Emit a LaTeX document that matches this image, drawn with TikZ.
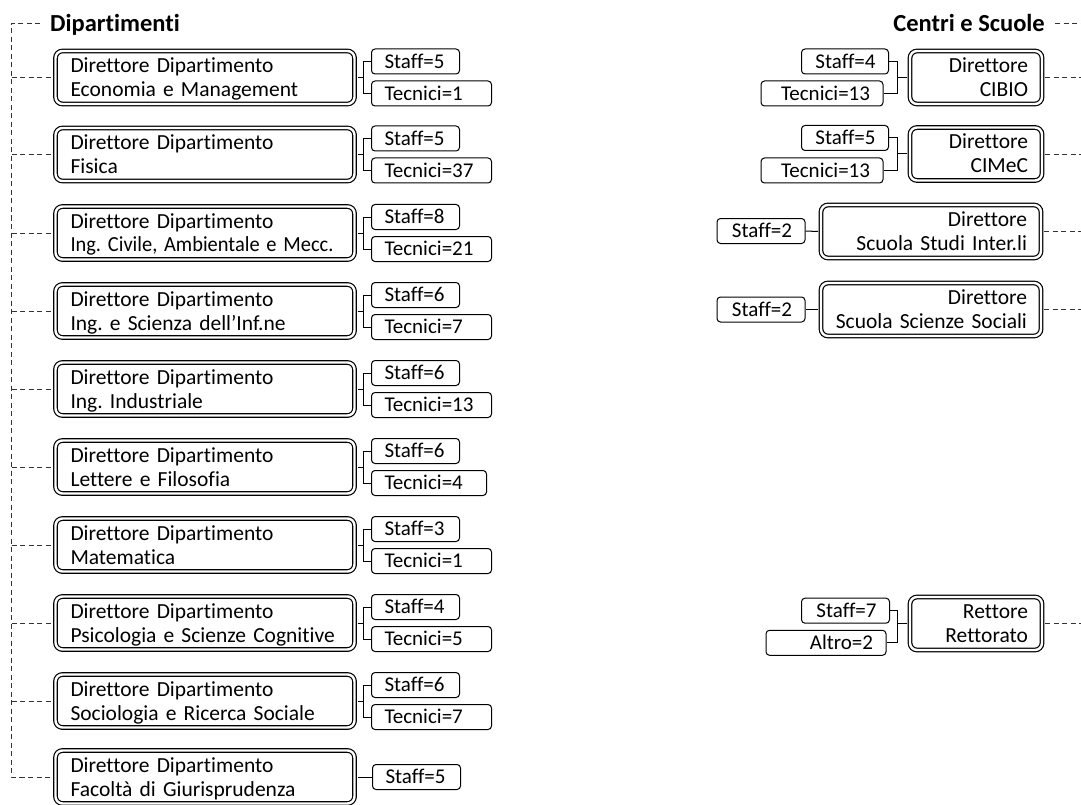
\documentclass[tikz,border=0pt]{standalone}
\usepackage{fontspec}
\setmainfont{Carlito}[Ligatures=CommonOff]
\frenchspacing

\begin{document}
\begin{tikzpicture}[x=1pt,y=-1pt,
  dir/.style={draw, double, double distance=2.4pt, line width=1.2pt, rounded corners=7pt,
    minimum height=53pt, inner xsep=15pt, inner ysep=0pt, outer sep=3pt,
    text height=14pt, text depth=24pt, font=\fontsize{21.5}{24}\selectfont},
  dirL/.style={dir, text width=269pt, align=left},
  dirR/.style={dir, inner xsep=14pt, text width=#1, align=right},
  sbox/.style={draw, line width=1pt, rounded corners=3.5pt, minimum height=25pt,
    inner xsep=13pt, inner ysep=0pt, text height=13.5pt, text depth=0pt,
    font=\fontsize{21}{24}\selectfont},
  sL/.style={sbox, text width=#1, align=left},
  sR/.style={sbox, text width=#1, align=right},
  head/.style={inner xsep=10pt, inner ysep=0pt, text height=18pt, text depth=0pt,
    font=\fontsize{24.5}{28}\selectfont\bfseries},
  dline/.style={dash pattern=on 5pt off 3.5pt, line width=0.9pt, black!80},
  link/.style={line width=1pt}]
\useasboundingbox (0,0) rectangle (1081,805);
%\draw[step=50pt,gray,very thin] (0,0) grid (1081,805); %background grid

% headings
\node[head, anchor=base west] (dip) at (40,32) {Dipartimenti};
\node[head, anchor=base east] (cs) at (1055,32) {Centri e Scuole};
\coordinate (spine) at (11.5,23);
\coordinate (redge) at (1081,23);

% Dipartimenti
\node[dirL] (d1) at (205,77.5) {Direttore Dipartimento\\Economia e Management};
\node[dirL] (d2) at (205,154.5) {Direttore Dipartimento\\Fisica};
\node[dirL] (d3) at (205,233) {Direttore Dipartimento\\\scalebox{0.95}[1]{Ing. Civile, Ambientale e Mecc.}};
\node[dirL] (d4) at (205,311) {Direttore Dipartimento\\Ing. e Scienza dell’Inf.ne};
\node[dirL] (d5) at (205,389) {Direttore Dipartimento\\Ing. Industriale};
\node[dirL] (d6) at (205,467) {Direttore Dipartimento\\Lettere e Filosofia};
\node[dirL] (d7) at (205,545) {Direttore Dipartimento\\Matematica};
\node[dirL] (d8) at (205,623) {Direttore Dipartimento\\Psicologia e Scienze Cognitive};
\node[dirL] (d9) at (205,701) {Direttore Dipartimento\\Sociologia e Ricerca Sociale};
\node[dirL] (d10) at (205,777) {Direttore Dipartimento\\Facoltà di Giurisprudenza};

\node[sL=62pt] (s1) at (415.5,61.5) {Staff=5};
\node[sL=94pt] (t1) at (431.5,93.5) {Tecnici=1};
\node[sL=62pt] (s2) at (415.5,138.5) {Staff=5};
\node[sL=94pt] (t2) at (431.5,170.5) {Tecnici=37};
\node[sL=62pt] (s3) at (415.5,217) {Staff=8};
\node[sL=94pt] (t3) at (431.5,249) {Tecnici=21};
\node[sL=62pt] (s4) at (415.5,295) {Staff=6};
\node[sL=94pt] (t4) at (431.5,327) {Tecnici=7};
\node[sL=62pt] (s5) at (415.5,373) {Staff=6};
\node[sL=94pt] (t5) at (431.5,405) {Tecnici=13};
\node[sL=62pt] (s6) at (415.5,451) {Staff=6};
\node[sL=89pt] (t6) at (429,483) {Tecnici=4};
\node[sL=62pt] (s7) at (415.5,529) {Staff=3};
\node[sL=94pt] (t7) at (431.5,561) {Tecnici=1};
\node[sL=62pt] (s8) at (415.5,607) {Staff=4};
\node[sL=94pt] (t8) at (431.5,639) {Tecnici=5};
\node[sL=62pt] (s9) at (415.5,685) {Staff=6};
\node[sL=94pt] (t9) at (431.5,717) {Tecnici=7};
\node[sL=62pt] (s10) at (416.5,777) {Staff=5};

% Centri e Scuole
\node[dirR=104pt] (c1) at (976,77.5) {Direttore\\CIBIO};
\node[dirR=104pt] (c2) at (976,154) {Direttore\\CIMeC};
\node[dirR=192pt] (c3) at (931,231.5) {Direttore\\Scuola Studi Inter.li};
\node[dirR=192pt] (c4) at (931,309.5) {Direttore\\Scuola Scienze Sociali};
\node[dirR=104pt] (r) at (976,623.5) {Rettore\\Rettorato};

\node[sR=61pt] (cs1) at (845,61.5) {Staff=4};
\node[sR=96pt] (ct1) at (822,93.5) {Tecnici=13};
\node[sR=61pt] (cs2) at (845,138) {Staff=5};
\node[sR=96pt] (ct2) at (822,170.5) {Tecnici=13};
\node[sR=62pt] (cs3) at (761,231) {Staff=2};
\node[sR=62pt] (cs4) at (761,309.5) {Staff=2};
\node[sR=62pt] (rs) at (845.5,610.7) {Staff=7};
\node[sR=94pt] (ra) at (826,642.8) {Altro=2};

% dashed tree
\draw[dline] (dip.west) -- (spine) |- (d10.west);
\foreach \i in {1,...,9} {
  \draw[dline] (spine |- d\i.west) -- (d\i.west);
}
\draw[dline] (cs.east) -- (redge);
\foreach \n in {c1,c2,c3,c4,r} {
  \draw[dline] (\n.east) -- (redge |- \n.east);
}

% links to staff
\foreach \i in {1,...,9} {
  \draw[link] (d\i.east) -- ++(5.5,0) coordinate (j\i) |- (s\i.west) (j\i) |- (t\i.west);
}
\draw[link] (d10.east) -- (s10.west);
\draw[link] (c1.west) -- ++(-10,0) coordinate (k1) |- (cs1.east) (k1) |- (ct1.east);
\draw[link] (c2.west) -- ++(-10,0) coordinate (k2) |- (cs2.east) (k2) |- (ct2.east);
\draw[link] (c3.west) -- (cs3.east);
\draw[link] (c4.west) -- (cs4.east);
\draw[link] (r.west) -- ++(-10,0) coordinate (kr) |- (rs.east) (kr) |- (ra.east);
\end{tikzpicture}
\end{document}
